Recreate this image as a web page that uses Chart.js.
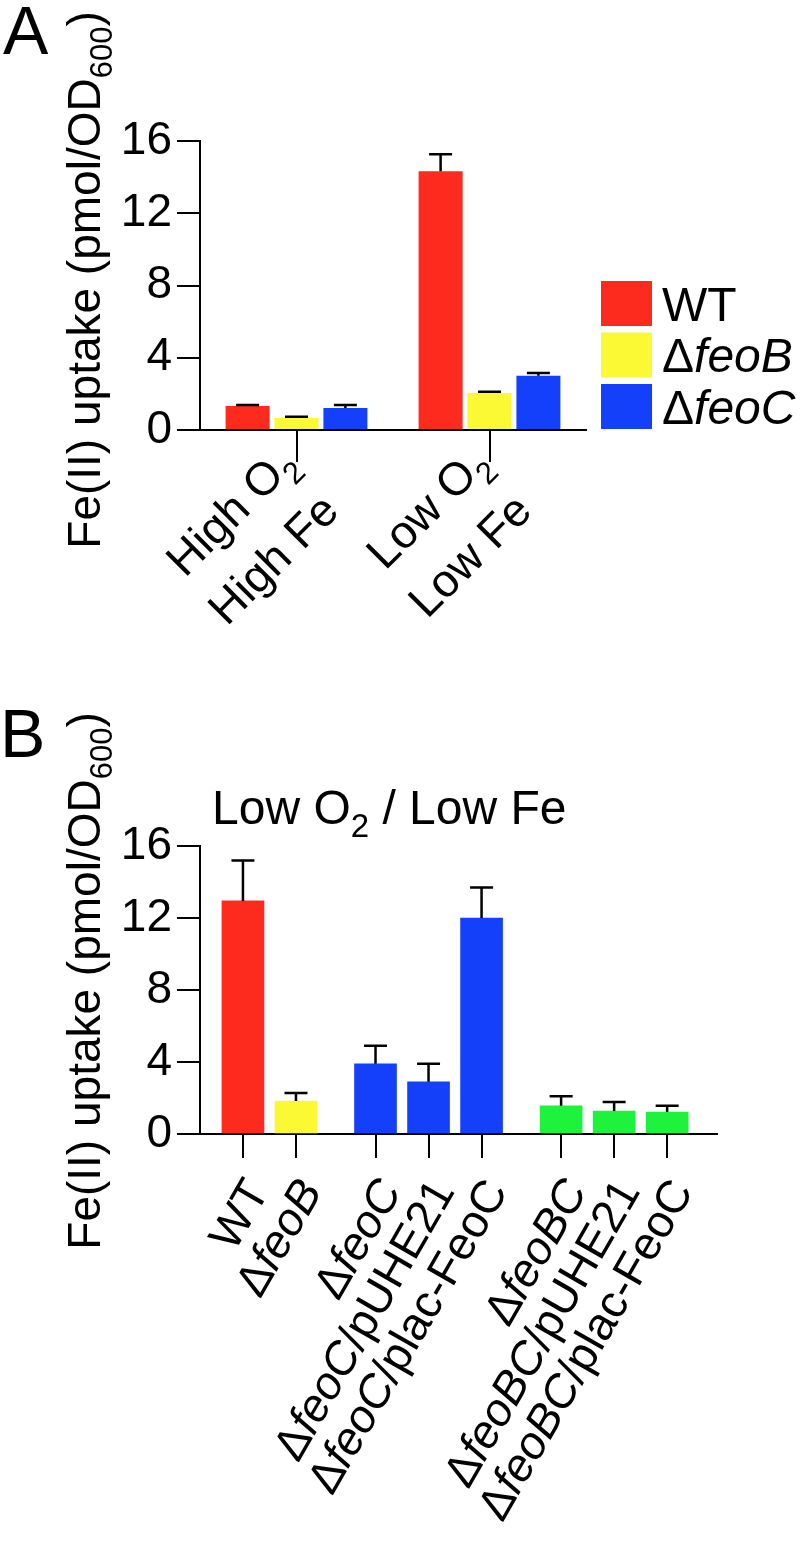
<!DOCTYPE html>
<html>
<head>
<meta charset="utf-8">
<title>Fe(II) uptake</title>
<script src="https://cdn.jsdelivr.net/npm/chart.js@4.4.1/dist/chart.umd.min.js"></script>
<style>
  html, body { margin: 0; padding: 0; background: #fff; }
  #wrap { position: relative; width: 800px; height: 1542px; }
  canvas { position: absolute; left: 0; }
  #chartA { top: 0; }
  #chartB { top: 640px; }
</style>
</head>
<body>
<div id="wrap">
  <canvas id="chartA" width="800" height="640"></canvas>
  <canvas id="chartB" width="800" height="902"></canvas>
</div>
<script>
// panel A: uptake by growth condition
const conditions = ["High O<sub>2</sub>\nHigh Fe", "Low O<sub>2</sub>\nLow Fe"];
const strainsA = ["WT", "Δ<i>feoB</i>", "Δ<i>feoC</i>"];
const wtA = [1.33, 14.33];
const feoBA = [0.67, 2.05];
const feoCA = [1.22, 3.0];
const wtErrA = [0.06, 0.93];
const feoBErrA = [0.07, 0.07];
const feoCErrA = [0.17, 0.15];

// panel B: low O2 / low Fe, strains in three groups
const strainsB = [
  "WT", "Δ<i>feoB</i>",
  "Δ<i>feoC</i>", "Δ<i>feoC</i>/pUHE21", "Δ<i>feoC</i>/plac-FeoC",
  "Δ<i>feoBC</i>", "Δ<i>feoBC</i>/pUHE21", "Δ<i>feoBC</i>/plac-FeoC",
];
const strainGroupB = [0, 0, 1, 1, 1, 2, 2, 2];
const uptakeB = [12.95, 1.83, 3.9, 2.9, 12.0, 1.57, 1.28, 1.22];
const uptakeErrB = [2.25, 0.45, 1.0, 1.0, 1.7, 0.53, 0.5, 0.35];

const yTitle = "Fe(II) uptake (pmol/OD<sub>600</sub>)";
const titleB = "Low O<sub>2</sub> / Low Fe";

const RED = "#fd2a1e";
const YELLOW = "#fbf834";
const BLUE = "#1540fa";
const GREEN = "#1ef23c";
const groupColors = [[RED, YELLOW], [BLUE, BLUE, BLUE], [GREEN, GREEN, GREEN]];
const FONT = '"Liberation Sans", Arial, Helvetica, sans-serif';

// small rich-text helper: <i>..</i> italic, <sub>..</sub> subscript
function parseRich(str) {
  return str.split(/(<i>.*?<\/i>|<sub>.*?<\/sub>)/).filter((s) => s).map((s) => {
    if (s.startsWith("<i>")) return { t: s.slice(3, -4), italic: true };
    if (s.startsWith("<sub>")) return { t: s.slice(5, -6), sub: true };
    return { t: s };
  });
}

function drawRich(ctx, str, x, y, size, align = "left") {
  const subSize = Math.round(size * 0.68);
  const subShift = size * 0.27;
  const segs = parseRich(str);
  const fontOf = (s) => `${s.italic ? "italic " : ""}${s.sub ? subSize : size}px ${FONT}`;
  let w = 0;
  segs.forEach((s) => { ctx.font = fontOf(s); w += ctx.measureText(s.t).width; });
  let cx = align === "right" ? x - w : align === "center" ? x - w / 2 : x;
  ctx.textAlign = "left";
  ctx.textBaseline = "alphabetic";
  segs.forEach((s) => {
    ctx.font = fontOf(s);
    ctx.fillText(s.t, cx, s.sub ? y + subShift : y);
    cx += ctx.measureText(s.t).width;
  });
}

const errorBars = {
  id: "errorBars",
  afterDatasetsDraw(chart) {
    const { ctx } = chart;
    const y = chart.scales.y;
    ctx.save();
    ctx.strokeStyle = "#000";
    ctx.lineWidth = 2.5;
    chart.data.datasets.forEach((ds, i) => {
      const meta = chart.getDatasetMeta(i);
      meta.data.forEach((bar, j) => {
        const raw = ds.data[j];
        const v = typeof raw === "object" ? raw.y : raw;
        const top = y.getPixelForValue(v + ds.errors[j]);
        ctx.beginPath();
        ctx.moveTo(bar.x, bar.y);
        ctx.lineTo(bar.x, top);
        ctx.moveTo(bar.x - 11.5, top);
        ctx.lineTo(bar.x + 11.5, top);
        ctx.stroke();
      });
    });
    ctx.restore();
  },
};

function yAxis() {
  return {
    min: 0,
    max: 16,
    ticks: { stepSize: 4, color: "#000", padding: 5, font: { family: FONT, size: 46 } },
    grid: { drawOnChartArea: false, tickLength: 23, color: "#000", lineWidth: 2 },
    border: { display: true, color: "#000", width: 2 },
    afterFit: (s) => { s.width = 200; },
  };
}

// ---------- panel A ----------
const panelAText = {
  id: "panelAText",
  afterDraw(chart) {
    const { ctx } = chart;
    const x = chart.scales.x;
    ctx.save();
    ctx.fillStyle = "#000";
    drawRich(ctx, "A", 3, 54, 68);

    ctx.save();
    ctx.translate(100, 280);
    ctx.rotate(-Math.PI / 2);
    drawRich(ctx, yTitle, 0, 0, 46, "center");
    ctx.restore();

    conditions.forEach((label, i) => {
      const px = x.getPixelForValue(i);
      ctx.save();
      ctx.translate(px + 2, x.top + 35);
      ctx.rotate(-Math.PI / 4);
      label.split("\n").forEach((line, k) => drawRich(ctx, line, -4 * k, k * 64, 46, "right"));
      ctx.restore();
    });

    chart.data.datasets.forEach((ds, i) => {
      const top = 281 + i * 51.5;
      ctx.fillStyle = ds.backgroundColor;
      ctx.fillRect(601, top, 51, 45);
      ctx.fillStyle = "#000";
      drawRich(ctx, strainsA[i], 662, top + 22.5 + 17, 48);
    });
    ctx.restore();
  },
};

new Chart(document.getElementById("chartA"), {
  type: "bar",
  data: {
    labels: conditions,
    datasets: [
      { label: strainsA[0], data: wtA, errors: wtErrA, backgroundColor: RED },
      { label: strainsA[1], data: feoBA, errors: feoBErrA, backgroundColor: YELLOW },
      { label: strainsA[2], data: feoCA, errors: feoCErrA, backgroundColor: BLUE },
    ],
  },
  options: {
    responsive: false,
    animation: false,
    events: [],
    categoryPercentage: 0.76,
    barPercentage: 0.9,
    layout: { padding: { left: 0, right: 214, top: 141, bottom: 0 } },
    plugins: { legend: { display: false }, tooltip: { enabled: false } },
    scales: {
      x: {
        offset: true,
        ticks: { display: false },
        grid: { drawOnChartArea: false, offset: false, tickLength: 32, color: "#000", lineWidth: 2 },
        border: { display: true, color: "#000", width: 2 },
        afterFit: (s) => { s.height = 210; },
      },
      y: yAxis(),
    },
  },
  plugins: [errorBars, panelAText],
});

// ---------- panel B ----------
// bar positions on the x scale: one unit per strain, half a unit between groups
const positionsB = strainGroupB.map((g, i) => i + 1 + g * 0.5);
const colorsB = strainGroupB.map((g, i) => groupColors[g][i - strainGroupB.indexOf(g)]);

const panelBText = {
  id: "panelBText",
  afterDraw(chart) {
    const { ctx } = chart;
    const x = chart.scales.x;
    ctx.save();
    ctx.fillStyle = "#000";
    drawRich(ctx, "B", 0, 117, 68);
    drawRich(ctx, titleB, 212, 184, 48);

    ctx.save();
    ctx.translate(100, 341);
    ctx.rotate(-Math.PI / 2);
    drawRich(ctx, yTitle, 0, 0, 46, "center");
    ctx.restore();

    strainsB.forEach((label, i) => {
      const px = x.getPixelForValue(positionsB[i]);
      ctx.save();
      ctx.translate(px + 27, x.top + 57);
      ctx.rotate(-Math.PI / 3);
      drawRich(ctx, label, 0, 0, 46, "right");
      ctx.restore();
    });
    ctx.restore();
  },
};

new Chart(document.getElementById("chartB"), {
  type: "bar",
  data: {
    datasets: [
      {
        label: "Low O2 / Low Fe",
        data: uptakeB.map((v, i) => ({ x: positionsB[i], y: v })),
        errors: uptakeErrB,
        backgroundColor: colorsB,
        barThickness: 42,
      },
    ],
  },
  options: {
    responsive: false,
    animation: false,
    events: [],
    layout: { padding: { left: 0, right: 83, top: 206, bottom: 0 } },
    plugins: { legend: { display: false }, tooltip: { enabled: false } },
    scales: {
      x: {
        type: "linear",
        bounds: "data",
        offset: false,
        min: 0.19,
        max: 9.94,
        ticks: { display: false },
        afterBuildTicks: (s) => { s.ticks = positionsB.map((v) => ({ value: v })); },
        grid: { drawOnChartArea: false, offset: false, tickLength: 24, color: "#000", lineWidth: 2 },
        border: { display: true, color: "#000", width: 2 },
        afterFit: (s) => { s.height = 408; },
      },
      y: yAxis(),
    },
  },
  plugins: [errorBars, panelBText],
});
</script>
</body>
</html>
